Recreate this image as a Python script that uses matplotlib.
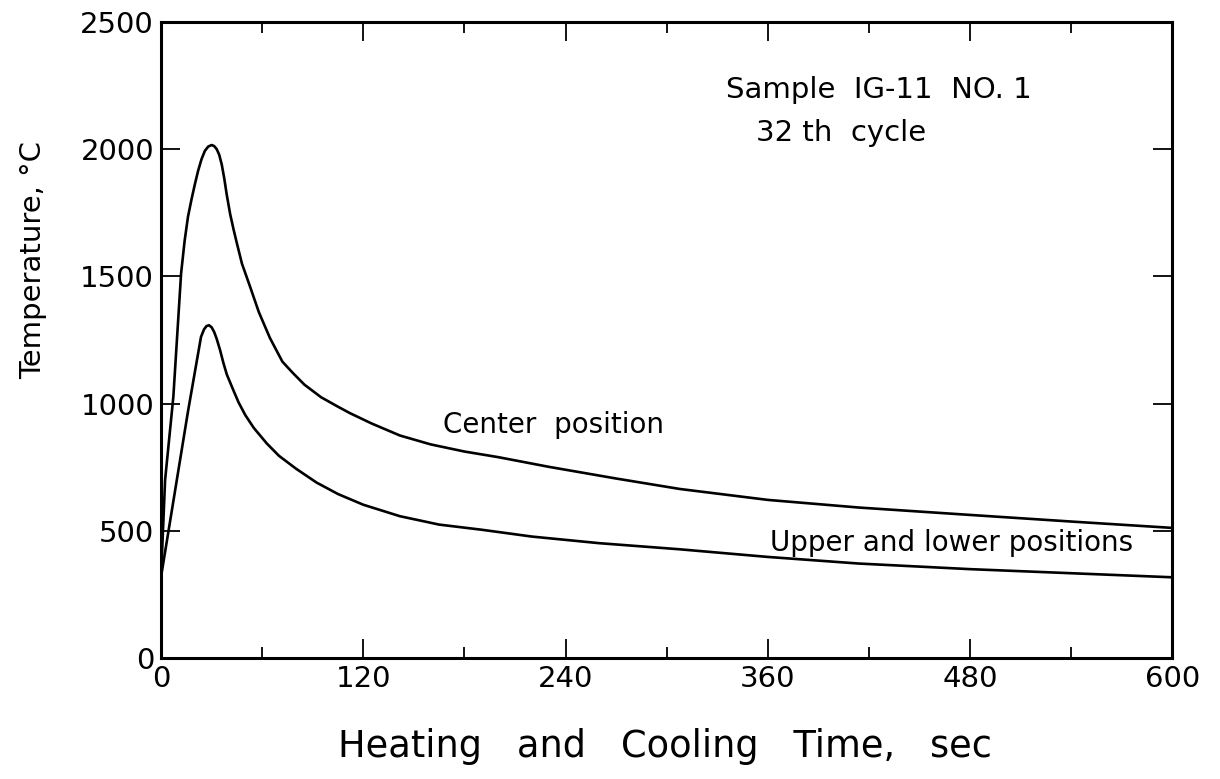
import numpy as np
import matplotlib
matplotlib.use("Agg")
import matplotlib.pyplot as plt
from matplotlib.ticker import MultipleLocator

# values (time in sec, temperature in deg C)
center_time = [0, 2.4, 7.3, 11.9, 14, 16, 18, 20, 22, 24, 26, 28, 30, 31.5, 33,
               34.5, 36, 37.5, 39, 41, 43, 45, 48, 52.8, 58, 64.6, 72, 78, 85,
               95, 105, 112, 125, 141.7, 160, 180, 200, 230, 270, 307.7, 360,
               414, 480, 540, 600]
center_temp = [320, 700, 1027, 1512, 1640, 1735, 1800, 1860, 1915, 1960, 1993,
               2010, 2016, 2012, 2000, 1978, 1940, 1885, 1820, 1745, 1685, 1630,
               1550, 1460, 1360, 1258, 1165, 1122, 1075, 1025, 988, 963, 922, 875,
               840, 812, 790, 752, 706, 665, 622, 592, 563, 537, 512]

outer_time = [0, 8, 16, 23.7, 25.5, 27, 28.5, 30, 31.5, 33, 35, 37, 39, 42.9,
              46, 50, 55, 62.7, 70, 80, 92.3, 105, 120, 141.7, 165, 190, 220,
              260, 307.7, 360, 414, 480, 540, 600]
outer_temp = [320, 645, 970, 1262, 1292, 1305, 1308, 1300, 1282, 1255, 1211, 1160,
              1115, 1053, 1005, 955, 905, 844, 795, 745, 690, 645, 603, 558, 525,
              505, 478, 452, 428, 398, 372, 350, 334, 318]

plt.rcParams['font.family'] = ['DejaVu Sans']

fig = plt.figure(figsize=(12.2, 7.79), dpi=100)
ax = fig.add_axes([0.132, 0.155, 0.829, 0.817])

ax.plot(center_time, center_temp, color='black', lw=1.9)
ax.plot(outer_time, outer_temp, color='black', lw=1.9)

ax.set_xlim(0, 600)
ax.set_ylim(0, 2500)
ax.xaxis.set_major_locator(MultipleLocator(120))
ax.xaxis.set_minor_locator(MultipleLocator(60))
ax.yaxis.set_major_locator(MultipleLocator(500))

ax.tick_params(which='major', direction='in', length=14, width=1.3,
               top=True, right=True, labelsize=21, pad=5)
ax.tick_params(which='minor', direction='in', length=8, width=1.3,
               top=True, right=False, left=False)
for s in ax.spines.values():
    s.set_linewidth(2.2)

ax.set_xlabel('Heating   and   Cooling   Time,   sec', fontsize=26.5)
ax.set_ylabel('Temperature, °C', fontsize=21)
ax.xaxis.set_label_coords(0.498, -0.11)
ax.yaxis.set_label_coords(-0.113, 0.625)

ax.text(335, 2233, 'Sample  IG-11  NO. 1', fontsize=21, va='center')
ax.text(353, 2064, '32 th  cycle', fontsize=21, va='center')
ax.text(167, 916, 'Center  position', fontsize=20, va='center')
ax.text(361, 452, 'Upper and lower positions', fontsize=20, va='center')

fig.savefig('out.png', dpi=100)
